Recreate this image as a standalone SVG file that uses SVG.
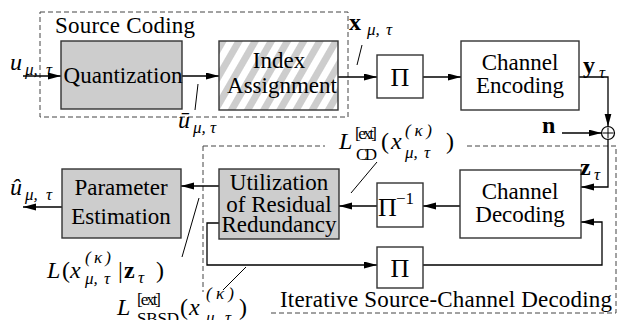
<svg xmlns="http://www.w3.org/2000/svg" width="626" height="320" viewBox="0 0 626 320" font-family="'Liberation Serif', 'Times New Roman', 'DejaVu Serif', serif">
  <style>
    .t, .tl, .it, .bf, .big, .sub, .up { font-family: 'Liberation Serif', 'Times New Roman', 'DejaVu Serif', serif; fill: #000; }
    .t { font-size: 23px; text-anchor: middle; }
    .tl { font-size: 23px; }
    .it { font-style: italic; }
    .bf { font-weight: bold; }
    .big { font-size: 24px; }
    .sub { font-size: 17px; }
    .box { stroke: #333; stroke-width: 1.4; }
    .white { fill: #fff; }
    .gray { fill: #cdcdcd; }
    .hatched { fill: url(#hatch); }
    .wire { fill: none; stroke: #000; stroke-width: 1.3; }
    .tick { fill: none; stroke: #000; stroke-width: 1; }
    .frame { fill: none; stroke: #444; stroke-width: 1; stroke-dasharray: 5 3; }
  </style>
  <defs>
    <marker id="arr" markerUnits="userSpaceOnUse" markerWidth="14" markerHeight="8" refX="13" refY="3.5" orient="auto">
      <path d="M0,0 L13,3.5 L0,7 Z" fill="#000"/>
    </marker>
    <pattern id="hatch" patternUnits="userSpaceOnUse" width="14" height="40" patternTransform="rotate(30)">
      <rect width="14" height="40" fill="#fff"/>
      <rect width="7" height="40" fill="#cdcdcd"/>
    </pattern>
  </defs>

  <!-- dashed grouping frames -->
  <g id="frames">
    <rect class="frame" x="40" y="12" width="308" height="105"/>
    <text class="tl" x="55" y="33" textLength="140">Source Coding</text>
    <path class="frame" d="M203,146 H325 M467,146 H616 V313 H270 M203,146 V292"/>
    <text class="tl" x="280" y="307" textLength="332">Iterative Source-Channel Decoding</text>
  </g>

  <!-- connectors -->
  <g id="connectors">
    <line class="wire" x1="23" y1="76" x2="61" y2="76" marker-end="url(#arr)"/>
    <line class="wire" x1="182" y1="76" x2="219" y2="76" marker-end="url(#arr)"/>
    <line class="wire" x1="338" y1="77" x2="377" y2="77" marker-end="url(#arr)"/>
    <line class="wire" x1="423" y1="77" x2="461" y2="77" marker-end="url(#arr)"/>
    <path class="wire" d="M579,77 H608 V126.5" marker-end="url(#arr)"/>
    <line class="wire" x1="562" y1="133" x2="601.5" y2="133" marker-end="url(#arr)"/>
    <path class="wire" d="M608,139.5 V187 H581" marker-end="url(#arr)"/>
    <line class="wire" x1="460" y1="206" x2="423" y2="206" marker-end="url(#arr)"/>
    <line class="wire" x1="377" y1="206" x2="339" y2="206" marker-end="url(#arr)"/>
    <line class="wire" x1="219" y1="186" x2="181" y2="186" marker-end="url(#arr)"/>
    <line class="wire" x1="62" y1="207" x2="23" y2="207" marker-end="url(#arr)"/>
    <path class="wire" d="M219,223 H207 V265 H377" marker-end="url(#arr)"/>
    <path class="wire" d="M423,265 H602 V222 H581" marker-end="url(#arr)"/>
    <!-- label pointers -->
    <line class="tick" x1="198" y1="84" x2="195" y2="110"/>
    <line class="tick" x1="362" y1="45" x2="357" y2="65"/>
    <line class="tick" x1="377" y1="162" x2="351" y2="193"/>
    <line class="tick" x1="199" y1="198" x2="182" y2="257"/>
    <line class="tick" x1="246" y1="267" x2="223" y2="290"/>
  </g>

  <!-- adder -->
  <g id="adder">
    <circle cx="608" cy="133" r="6.5" fill="#fff" stroke="#000" stroke-width="1.2"/>
    <path d="M602.5,133 H613.5 M608,127.5 V138.5" stroke="#000" stroke-width="1"/>
  </g>

  <!-- blocks -->
  <g id="quantization">
    <rect class="box gray" x="61" y="41" width="121" height="68"/>
    <text class="t" x="123" y="83">Quantization</text>
  </g>
  <g id="index-assignment">
    <rect class="box hatched" x="219" y="41" width="119" height="69"/>
    <text class="t" x="279" y="68">Index</text>
    <text class="t" x="282" y="93">Assignment</text>
  </g>
  <g id="interleaver-tx">
    <rect class="box white" x="377" y="55" width="46" height="43"/>
    <text class="t" x="400" y="86" style="font-size:26px">Π</text>
  </g>
  <g id="channel-encoding">
    <rect class="box white" x="461" y="41" width="118" height="69"/>
    <text class="t" x="520" y="70">Channel</text>
    <text class="t" x="520" y="93">Encoding</text>
  </g>
  <g id="channel-decoding">
    <rect class="box white" x="460" y="170" width="121" height="68"/>
    <text class="t" x="520" y="199">Channel</text>
    <text class="t" x="520" y="222">Decoding</text>
  </g>
  <g id="deinterleaver">
    <rect class="box white" x="377" y="183" width="46" height="44"/>
    <text class="up" x="378" y="216" style="font-size:26px">Π</text>
    <text class="up" x="396" y="204" style="font-size:17px">−1</text>
  </g>
  <g id="interleaver-rx">
    <rect class="box white" x="377" y="247" width="46" height="41"/>
    <text class="t" x="400" y="277" style="font-size:26px">Π</text>
  </g>
  <g id="residual-redundancy">
    <rect class="box gray" x="219" y="169" width="120" height="70"/>
    <text class="t" x="279" y="190">Utilization</text>
    <text class="t" x="279" y="212">of Residual</text>
    <text class="t" x="279" y="232">Redundancy</text>
  </g>
  <g id="parameter-estimation">
    <rect class="box gray" x="62" y="169" width="119" height="69"/>
    <text class="t" x="121" y="195">Parameter</text>
    <text class="t" x="121" y="224">Estimation</text>
  </g>

  <!-- signal labels -->
  <g id="labels">
    <text class="it big" x="10" y="70">u</text>
    <text class="it sub" x="25" y="75">μ,<tspan x="46">τ</tspan></text>

    <text class="it big" x="178" y="128">ū</text>
    <text class="it sub" x="193" y="133">μ,<tspan x="210">τ</tspan></text>

    <text class="bf big" x="349" y="30">x</text>
    <text class="it sub" x="367" y="35">μ,<tspan x="386">τ</tspan></text>

    <text class="bf big" x="583" y="73">y</text>
    <text class="it sub" x="599" y="78">τ</text>

    <text class="bf big" x="542" y="133">n</text>

    <text class="bf big" x="580" y="175">z</text>
    <text class="it sub" x="594" y="180">τ</text>

    <text class="it big" x="10" y="195">û</text>
    <text class="it sub" x="25" y="200">μ,<tspan x="46">τ</tspan></text>

    <!-- extrinsic information from channel decoding -->
    <text class="it big" x="339" y="149">L</text>
    <text class="up sub" x="355" y="139" textLength="22">[ext]</text>
    <text class="up sub" x="356" y="160" textLength="21">CD</text>
    <text class="up big" x="381" y="149">(</text>
    <text class="it big" x="391" y="149">x</text>
    <text class="it sub" x="405" y="136" textLength="27">(κ)</text>
    <text class="it sub" x="405" y="158">μ,<tspan x="424">τ</tspan></text>
    <text class="up big" x="446" y="149">)</text>

    <!-- a-posteriori L-value -->
    <text class="it big" x="47" y="278">L</text>
    <text class="up big" x="62" y="278">(</text>
    <text class="it big" x="70" y="278">x</text>
    <text class="it sub" x="85" y="263" textLength="26">(κ)</text>
    <text class="it sub" x="85" y="284">μ,<tspan x="104">τ</tspan></text>
    <text class="up big" x="118" y="278">|</text>
    <text class="bf big" x="124" y="278">z</text>
    <text class="it sub" x="138" y="283">τ</text>
    <text class="up big" x="156" y="278">)</text>

    <!-- extrinsic information from SBSD -->
    <text class="it big" x="117" y="315">L</text>
    <text class="up sub" x="137" y="305" textLength="24">[ext]</text>
    <text class="up sub" x="137" y="324" textLength="42">SBSD</text>
    <text class="up big" x="180" y="315">(</text>
    <text class="it big" x="189" y="315">x</text>
    <text class="it sub" x="206" y="299" textLength="28">(κ)</text>
    <text class="it sub" x="206" y="323">μ,<tspan x="225">τ</tspan></text>
    <text class="up big" x="239" y="315">)</text>
  </g>
</svg>
